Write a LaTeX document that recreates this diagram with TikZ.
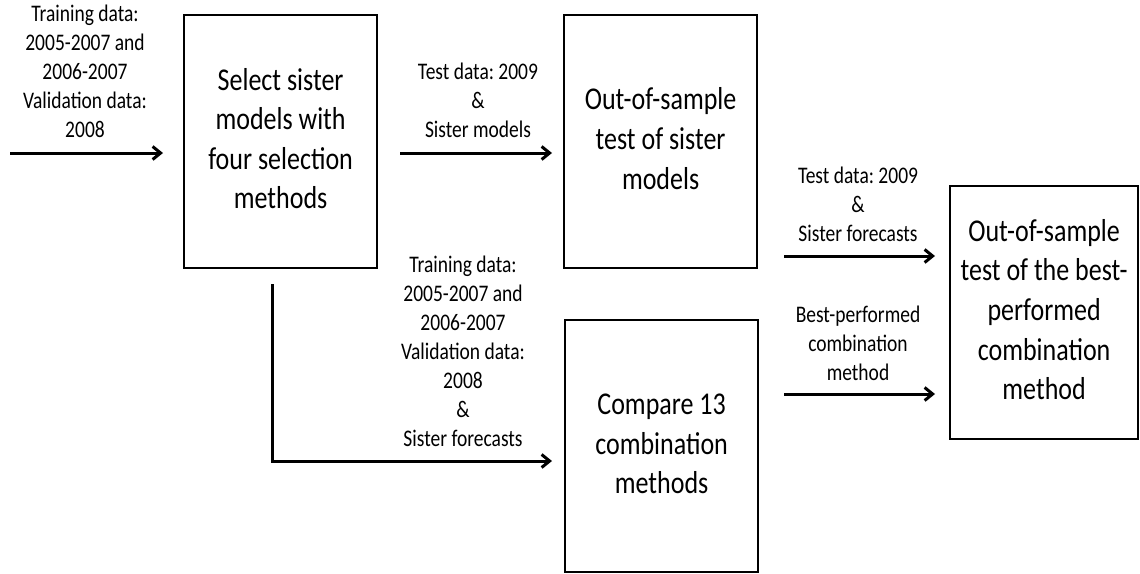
\documentclass[tikz,border=0pt]{standalone}
\usepackage{fontspec}
\setmainfont{Carlito}
\usepackage{graphicx}
\usetikzlibrary{arrows.meta}
\frenchspacing

% centred lines of text, stretched a little vertically
\newcommand\tallbox[1]{\scalebox{1}[1.22]{\begin{tabular}{@{}c@{}}#1\end{tabular}}}

\tikzset{
  stage/.style={draw, line width=2.2pt, inner sep=0pt, anchor=north west,
    minimum width=193pt, minimum height=253pt,
    font=\fontsize{26}{32.4}\selectfont},
  note/.style={inner sep=0pt, font=\fontsize{19.5}{23.8}\selectfont},
  flow/.style={line width=3pt, -{Straight Barb[length=8pt,width=13pt]}},
}

\begin{document}
\begin{tikzpicture}[x=1pt, y=-1pt]
\useasboundingbox (0,0) rectangle (1140,573);

% process boxes
\node[stage] (b1) at (183,14) {\tallbox{Select sister\\models with\\four selection\\methods}};
\node[stage] (b2) at (563,14) {\tallbox{Out-of-sample\\test of sister\\models}};
\node[stage, minimum height=252pt] (b3) at (564,319) {\tallbox{Compare 13\\combination\\methods}};
\node[stage, minimum width=188pt] (b4) at (949,185) {\tallbox{Out-of-sample\\test of the best-\\performed\\combination\\method}};

% data labels
\node[note] (n0) at (85,73.5) {\tallbox{Training data:\\2005-2007 and\\2006-2007\\Validation data:\\2008}};
\node[note] (n1) at (478,103) {\tallbox{Test data: 2009\\\&\\Sister models}};
\node[note] (n2) at (463,354) {\tallbox{Training data:\\2005-2007 and\\2006-2007\\Validation data:\\2008\\\&\\Sister forecasts}};
\node[note] (n3) at (858,207) {\tallbox{Test data: 2009\\\&\\Sister forecasts}};
\node[note] (n4) at (858,346) {\tallbox{Best-performed\\combination\\method}};

% rows of the connectors
\coordinate (src) at (10,153);
\coordinate (row1) at (0,153);
\coordinate (row4) at (0,256);
\coordinate (row5) at (0,394);
\coordinate (rowL) at (0,461);

% connectors
\draw[flow, shorten >=20pt] (src) -- (b1.west |- row1);
\draw[flow, shorten <=22pt, shorten >=11pt] (b1.east |- row1) -- (b2.west |- row1);
\draw[flow, shorten <=15pt, shorten >=12pt]
  ([xshift=-8pt]b1.south) -- ([xshift=-8pt]b1.south |- rowL) -- (b3.west |- rowL);
\draw[flow, shorten <=26pt, shorten >=14pt] (b2.east |- row4) -- (b4.west |- row4);
\draw[flow, shorten <=25pt, shorten >=14pt] (b3.east |- row5) -- (b4.west |- row5);
\end{tikzpicture}
\end{document}
